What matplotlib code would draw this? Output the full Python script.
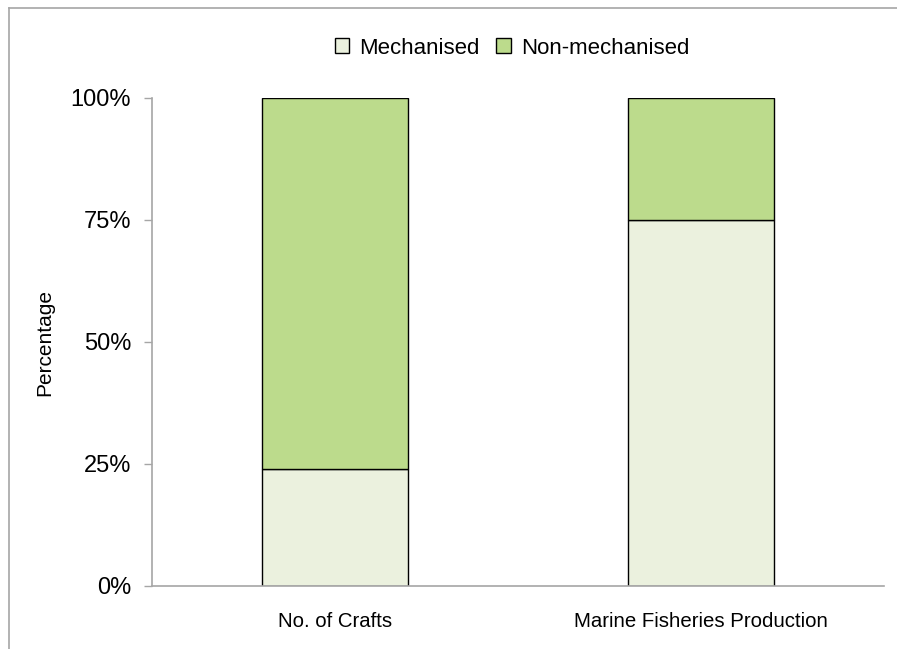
import matplotlib.pyplot as plt
from matplotlib.lines import Line2D

plt.rcParams['font.family'] = ['Liberation Sans', 'DejaVu Sans']

categories = ["No. of Crafts", "Marine Fisheries Production"]
mechanised = [24, 75]
non_mechanised = [76, 25]
yticks = [0, 25, 50, 75, 100]
ytick_labels = ["0%", "25%", "50%", "75%", "100%"]

light = "#ebf1de"
green = "#bcdb8c"
grey = "#a6a6a6"

fig = plt.figure(figsize=(8.97, 6.49), dpi=100)
ax = fig.add_axes([152 / 897, 1 - 586 / 649, (884 - 152) / 897, (586 - 98) / 649])

# outer chart border, only left and top edges show in the frame
bx, by = 8.5 / 897, 1 - 7.5 / 649
fig.add_artist(Line2D([bx, bx], [-0.05, by], transform=fig.transFigure, color=grey, lw=1.2))
fig.add_artist(Line2D([bx, 1.05], [by, by], transform=fig.transFigure, color=grey, lw=1.2))

x = range(len(categories))
ax.bar(x, mechanised, width=0.4, color=light, edgecolor="black",
       linewidth=1.0, label="Mechanised")
ax.bar(x, non_mechanised, width=0.4, bottom=mechanised, color=green,
       edgecolor="black", linewidth=1.0, label="Non-mechanised")

ax.set_xlim(-0.5, 1.5)
ax.set_ylim(0, 100)
ax.set_yticks(yticks)
ax.set_yticklabels(ytick_labels, fontsize=17)
ax.set_xticks(list(x))
ax.set_xticklabels(categories, fontsize=14.7)
ax.tick_params(axis="x", length=0, pad=19)
ax.tick_params(axis="y", length=6, color=grey, width=1, pad=9)

for s in ["top", "right"]:
    ax.spines[s].set_visible(False)
for s in ["left", "bottom"]:
    ax.spines[s].set_color(grey)
    ax.spines[s].set_linewidth(1.2)

ax.set_ylabel("Percentage", fontsize=15, labelpad=12)

fig.legend(loc="center", bbox_to_anchor=(512 / 897, 1 - 48 / 649), ncol=2,
           frameon=False, fontsize=16, handlelength=0.65, handleheight=0.65,
           handletextpad=0.45, columnspacing=0.75)

fig.savefig("out.png", dpi=100)
